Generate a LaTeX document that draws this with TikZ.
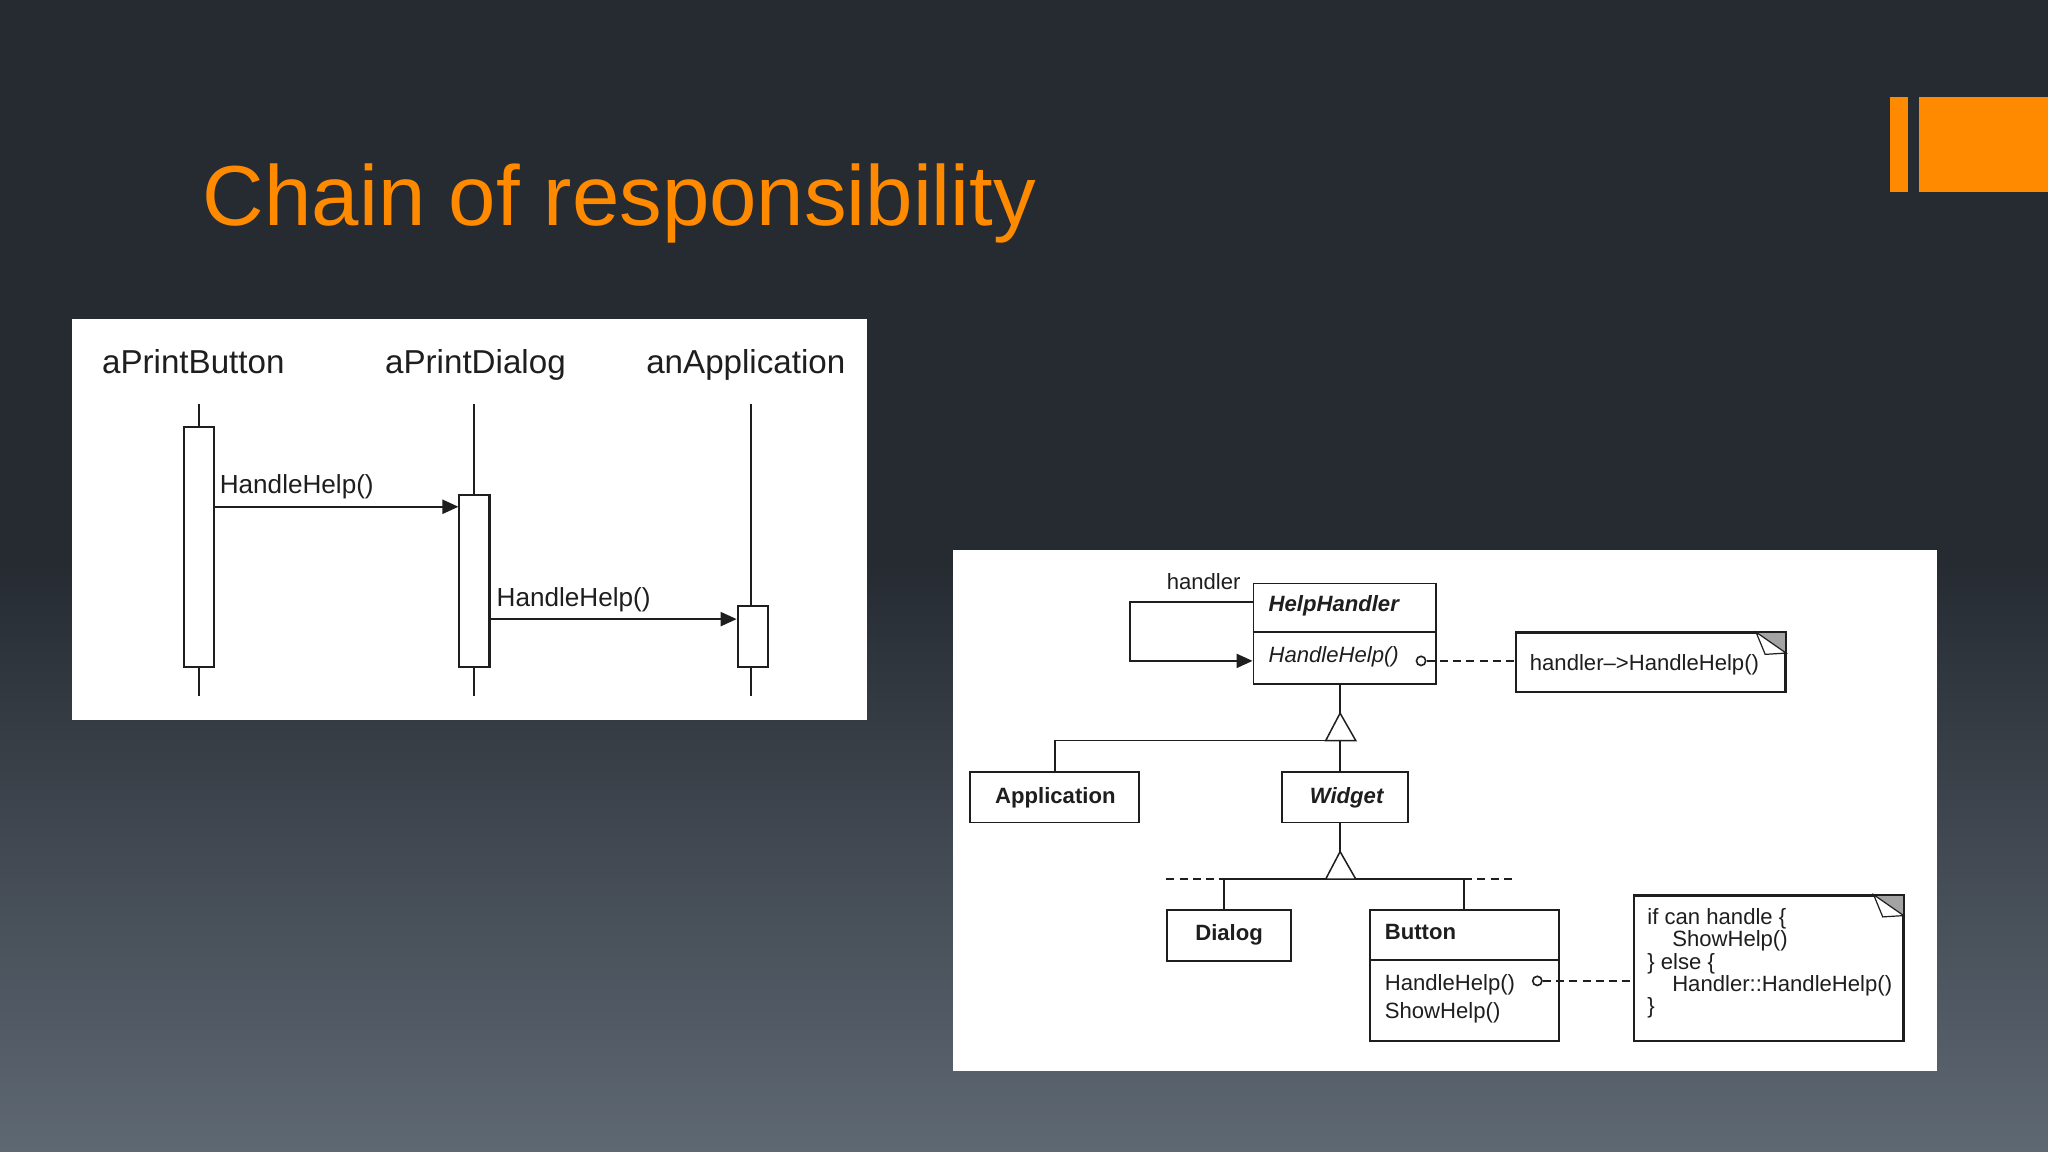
\documentclass[tikz,border=0pt]{standalone}
\usepackage{fontspec}
\setmainfont{Liberation Sans}
\usetikzlibrary{arrows.meta}
\definecolor{bgtop}{HTML}{262B32}
\definecolor{bgbot}{HTML}{5E6873}
\definecolor{orng}{HTML}{FF8A00}
\definecolor{ink}{HTML}{1E1E1E}
\definecolor{foldgray}{HTML}{A3A3A3}
\newcommand\umlfont{\fontsize{11}{13}\selectfont}
\begin{document}
\begin{tikzpicture}[x=0.65pt,y=-0.65pt,
  seqtxt/.style={font=\fontsize{16.5}{19}\selectfont, text=ink, inner sep=0, anchor=base},
  msgtxt/.style={font=\fontsize{13}{15}\selectfont, text=ink, inner sep=0, anchor=base west},
  act/.style={draw=ink, fill=white, line width=1pt, inner sep=0, anchor=north west},
  life/.style={draw=ink, line width=1pt},
  msg/.style={draw=ink, line width=1.1pt, -{Triangle[length=8pt,width=7pt]}},
  ubox/.style={draw=ink, fill=white, line width=0.95pt, inner sep=0, anchor=north west},
  utxt/.style={font=\umlfont, text=ink, inner sep=0, anchor=base west},
  ctxt/.style={font=\umlfont\bfseries, text=ink, inner sep=0, anchor=base},
  uline/.style={draw=ink, line width=0.75pt},
  udash/.style={draw=ink, line width=0.85pt, dash pattern=on 4pt off 2.6pt},
  pin/.style={circle, draw=ink, fill=white, line width=0.8pt, inner sep=0, minimum size=4.6pt},
  loopar/.style={draw=ink, line width=1pt, -{Triangle[length=8pt,width=7pt]}}
]
\useasboundingbox (0,0) rectangle (1568,882);
% background
\fill[bgtop] (0,0) rectangle (1568,431);
\shade[top color=bgtop, bottom color=bgbot] (0,430) rectangle (1568,882);
% orange bars
\fill[orng] (1447,74) rectangle (1461,147);
\fill[orng] (1469,74) rectangle (1568,147);
% title
\node[font=\fontsize{42.4}{50}\selectfont, text=orng, inner sep=0, anchor=base west] (title) at (155,173) {Chain of responsibility};

% ---------------- sequence diagram ----------------
\fill[white] (55,244) rectangle (664,551);
\node[seqtxt] (hpb) at (148,286) {aPrintButton};
\node[seqtxt] (hpd) at (364,286) {aPrintDialog};
\node[seqtxt] (hpa) at (571,286) {anApplication};
\coordinate (lpbT) at (152,309); \coordinate (lpbB) at (152,533);
\coordinate (lpdT) at (363,309); \coordinate (lpdB) at (363,533);
\coordinate (lpaT) at (575,309); \coordinate (lpaB) at (575,533);
\draw[life] (lpbT) -- (lpbB);
\draw[life] (lpdT) -- (lpdB);
\draw[life] (lpaT) -- (lpaB);
\node[act, minimum width=23*0.65pt, minimum height=184*0.65pt] (pbact) at (140,326) {};
\node[act, minimum width=23*0.65pt, minimum height=132*0.65pt] (pdact) at (351,378) {};
\node[act, minimum width=23*0.65pt, minimum height=47*0.65pt] (paact) at (564,463) {};
\coordinate (m1) at (0,388); \coordinate (m2) at (0,474);
\draw[msg] (pbact.east |- m1) -- (pdact.west |- m1);
\draw[msg] (pdact.east |- m2) -- (paact.west |- m2);
\node[msgtxt] (l1) at (168,378) {HandleHelp()};
\node[msgtxt] (l2) at (380,464) {HandleHelp()};

% ---------------- class diagram ----------------
\fill[white] (730,421) rectangle (1483,820);
% HelpHandler
\node[ubox, minimum width=140*0.65pt, minimum height=77*0.65pt] (hh) at (959,446) {};
\coordinate (hhdiv) at (0,484);
\draw[uline, line width=0.95pt] (hh.west |- hhdiv) -- (hh.east |- hhdiv);
\node[utxt, font=\umlfont\bfseries\itshape] (hhname) at (971,468) {HelpHandler};
\node[utxt, font=\umlfont\itshape] (hhop) at (971,507) {HandleHelp()};
\node[utxt] (hlab) at (893,451) {handler};
\coordinate (lpT) at (865,461); \coordinate (lpB) at (865,506);
\draw[loopar] (hh.west |- lpT) -- (lpT) -- (lpB) -- (hh.west |- lpB);
% note 1
\node[ubox, minimum width=206*0.65pt, minimum height=45*0.65pt] (n1) at (1160,484) {};
\fill[foldgray] (n1.north east) -- ++(-23,0) -- ++(23,16) -- cycle;
\draw[ink, line width=0.6pt, fill=white] (n1.north east) ++(-23,0) -- ++(7,17) -- ++(16,-1) -- cycle;
\draw[ink, line width=0.95pt] (n1.north west) -- (n1.north east) -- (n1.south east);
\node[utxt] (n1t) at (1171,513) {handler–>HandleHelp()};
\node[pin] (c1) at (1088,506) {};
\draw[udash] (c1.east) -- (n1.west |- c1);
% Application / Widget
\node[ubox, minimum width=129*0.65pt, minimum height=39*0.65pt] (app) at (742,590) {};
\node[ctxt] (appt) at (808,615) {Application};
\node[ubox, minimum width=96*0.65pt, minimum height=39*0.65pt] (wid) at (981,590) {};
\node[ctxt, font=\umlfont\bfseries\itshape] (widt) at (1031,615) {Widget};
\coordinate (t1apex) at (1026,546); \coordinate (t1l) at (1015,567); \coordinate (t1r) at (1038,567);
\coordinate (aj) at (808,567);
\draw[uline] (t1apex |- hh.south) -- (t1apex);
\draw[uline, line width=0.9pt] (aj |- app.north) -- (aj) -- (t1r);
\draw[uline] (t1apex |- t1l) -- (t1apex |- wid.north);
\draw[uline, fill=white] (t1apex) -- (t1r) -- (t1l) -- cycle;
% Dialog / Button
\node[ubox, minimum width=95*0.65pt, minimum height=39*0.65pt] (dlg) at (893,696) {};
\node[ctxt] (dlgt) at (941,720) {Dialog};
\node[ubox, minimum width=145*0.65pt, minimum height=100*0.65pt] (btn) at (1048,696) {};
\coordinate (btndiv) at (0,735);
\draw[uline, line width=0.95pt] (btn.west |- btndiv) -- (btn.east |- btndiv);
\node[utxt, font=\umlfont\bfseries] (btnt) at (1060,719) {Button};
\node[utxt] (btnop1) at (1060,758) {HandleHelp()};
\node[utxt] (btnop2) at (1060,780) {ShowHelp()};
\coordinate (t2apex) at (1026,652); \coordinate (t2l) at (1015,673); \coordinate (t2r) at (1038,673);
\coordinate (dj) at (937,673); \coordinate (bj) at (1121,673);
\coordinate (dL) at (893,673); \coordinate (dR) at (1161,673);
\draw[uline] (t2apex |- wid.south) -- (t2apex);
\draw[uline, line width=0.9pt] (dj) -- (bj);
\draw[udash] (dL) -- (dj);
\draw[udash] (bj) -- (dR);
\draw[uline] (dj) -- (dj |- dlg.north);
\draw[uline] (bj) -- (bj |- btn.north);
\draw[uline, fill=white] (t2apex) -- (t2r) -- (t2l) -- cycle;
% note 2
\node[ubox, minimum width=206*0.65pt, minimum height=111*0.65pt] (n2) at (1250,685) {};
\fill[foldgray] (n2.north east) -- ++(-23,0) -- ++(23,16) -- cycle;
\draw[ink, line width=0.6pt, fill=white] (n2.north east) ++(-23,0) -- ++(7,17) -- ++(16,-1) -- cycle;
\draw[ink, line width=0.95pt] (n2.north west) -- (n2.north east) -- (n2.south east);
\node[utxt] (n2a) at (1261,708) {if can handle \{};
\node[utxt] (n2b) at (1280,725) {ShowHelp()};
\node[utxt] (n2c) at (1261,742) {\} else \{};
\node[utxt] (n2d) at (1280,759) {Handler::HandleHelp()};
\node[utxt] (n2e) at (1261,776) {\}};
\node[pin] (c2) at (1177,751) {};
\draw[udash] (c2.east) -- (n2.west |- c2);
\end{tikzpicture}
\end{document}
